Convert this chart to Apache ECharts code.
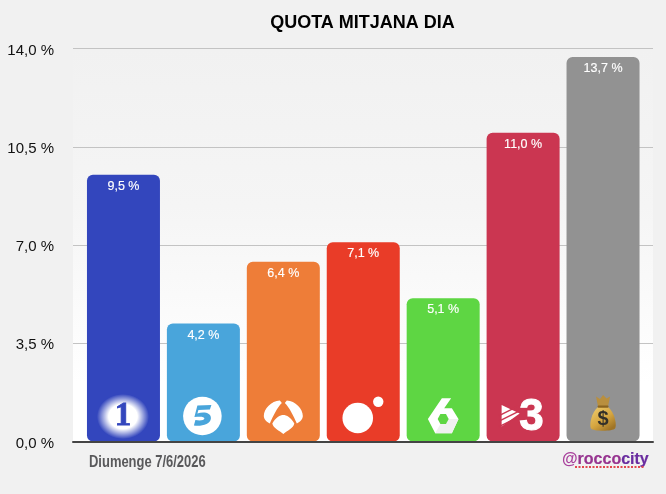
<!DOCTYPE html>
<html><head><meta charset="utf-8">
<style>html,body{margin:0;padding:0;background:#f1f1f1}#c{width:666px;height:494px}</style>
<script src="https://cdn.jsdelivr.net/npm/echarts@6/dist/echarts.min.js"></script>
</head><body><div id="c"></div>
<script>
const titleText = 'QUOTA MITJANA DIA';
const dateText = 'Diumenge 7/6/2026';
const creditAt = '@';
const creditA = 'rocco';
const creditB = 'city';
const categories = ['La 1','Telecinco','Antena 3','Cuatro','laSexta','TV3','Altres'];
const values = [9.5,4.2,6.4,7.1,5.1,11.0,13.7];
const colors = ['#3346bd','#49a5db','#ee7d38','#e93c28','#5ed643','#cb3651','#929292'];
const logoLevel = 0.89;
const fmt = v => v.toFixed(1).replace('.',',') + ' %';
const FONT = '"Liberation Sans", Arial, sans-serif';

function P(x,y,tpl){
  return tpl.replace(/(-?[\d.]+) (-?[\d.]+)/g,(m,a,b)=>(x+ +a)+' '+(y+ +b));
}
function logo(i, x, y, c) {
  const W = '#ffffff';
  const ch = [];
  const g = (o) => ch.push(o);
  const poly = (pts,fill)=>g({type:'polygon',shape:{points:pts.map(p=>[x+p[0],y+p[1]])},style:{fill}});
  const path = (tpl,fill)=>g({type:'path',shape:{pathData:P(x,y,tpl)},style:{fill}});
  if (i === 0) {
    g({type:'circle',x:x-0.5,y:y,scaleX:25.5/22,shape:{cx:0,cy:0,r:22.5},style:{fill:{type:'radial',x:.5,y:.5,r:.5,colorStops:[{offset:0,color:'#fff'},{offset:.55,color:'#fff'},{offset:1,color:'rgba(255,255,255,0)'}]}}});
    g({type:'text',style:{x:x-0.5,y:y,text:'1',fill:c,stroke:c,lineWidth:0.8,font:'bold 33px "Liberation Serif", serif',align:'center',verticalAlign:'middle'}});
  } else if (i === 1) {
    g({type:'circle',shape:{cx:x-1,cy:y-0.5,r:19.3},style:{fill:W}});
    path('M-6 -11 L8 -11.5 L6.5 -7 L-5 -6.5 L-6 -3 C0 -5 8 -4 7.5 2 C7 8 -2 10 -9.5 9 L-8 3.5 C-4 4.5 1 4 1 2 C1 -0 -3 0 -9 0.5 Z',c);
    g({type:'line',shape:{x1:x-8,y1:y+6,x2:x+3,y2:y+5},style:{stroke:c,lineWidth:0.8}});
  } else if (i === 2) {
    path('M-3.5 -16 C-12 -15.5 -19.5 -8 -19.5 -0.5 C-19.5 2.5 -17 5.5 -13.5 7 C-10 -1 -6 -9 -1.5 -13.5 Z',W);
    path('M3.5 -16 C12 -15.5 19.5 -8 19.5 -0.5 C19.5 2.5 17 5.5 13.5 7 C10 -1 6 -9 1.5 -13.5 Z',W);
    path('M-11 7 C-8 1 -3 -1.5 0 -1.5 C3 -1.5 8 1 11 7 C10 12 4 14 0 17.5 C-4 14 -10 12 -11 7 Z',W);
  } else if (i === 3) {
    g({type:'circle',shape:{cx:x-5.5,cy:y+1.5,r:15.3},style:{fill:W}});
    g({type:'circle',shape:{cx:x+15,cy:y-14.8,r:5.2},style:{fill:W}});
  } else if (i === 4) {
    poly([[-15.3,2.5],[-1.3,-18.2],[8,-18.2],[1,-8.2],[8.7,-8.2],[15.3,2.5],[8.7,16.8],[-8,16.8]],W);
    poly([[0,2.5],[15.3,2.5],[8.7,16.8],[-8,16.8]],'#f0f0f0');
    poly([[-5.5,2.5],[-2.8,-2.5],[2.8,-2.5],[5.5,2.5],[2.8,7.5],[-2.8,7.5]],c);
  } else if (i === 5) {
    poly([[-21.5,-11.5],[-3.5,-3],[-21.5,10]],W);
    [0,1,2].forEach(k=>g({type:'line',shape:{x1:x-24,y1:y-1+k*5.5,x2:x-4,y2:y-11+k*5.5},style:{stroke:c,lineWidth:1.4}}));
    g({type:'text',style:{x:x+8.5,y:y+1,text:'3',fill:W,font:'bold 44px "Liberation Sans", sans-serif',align:'center',verticalAlign:'middle',stroke:W,lineWidth:1}});
  } else {
    path('M-7 -20 L-3 -17.5 L0 -21.5 L3.5 -18 L7 -20 L5 -10 L-5 -10 Z','#b98f3e');
    path('M-4.5 -10 C-12 -4 -14 9 -12 12 C-10 15 10 15 12 12 C14 9 12 -4 4.5 -10 Z',{type:'linear',x:0,y:0,x2:.7,y2:1,colorStops:[{offset:0,color:'#f0cf72'},{offset:.6,color:'#d6a640'},{offset:1,color:'#9f7426'}]});
    g({type:'rect',shape:{x:x-5.5,y:y-11,width:11,height:2.2,r:1},style:{fill:'#8a6420'}});
    g({type:'text',style:{x:x,y:y+3,text:'$',fill:'#333029',font:'bold 20px "Liberation Sans", sans-serif',align:'center',verticalAlign:'middle'}});
  }
  return {type:'group',children:ch};
}

const chart = echarts.init(document.getElementById('c'), null, {renderer:'canvas'});
chart.setOption({
  animation:false,
  backgroundColor:'#f1f1f1',
  title:[
    {text:titleText,left:357.5,top:9,textAlign:'center',textStyle:{fontFamily:FONT,fontWeight:'bold',fontSize:18,color:'#000'}},
    {text:`{a|${creditAt}}{b|${creditA}}{c|${creditB}}`,left:557,top:447,
     textStyle:{rich:{
       a:{fontFamily:FONT,fontSize:16,color:'#a8409c'},
       b:{fontFamily:FONT,fontSize:16,color:'#96338f',textBorderColor:'#96338f',textBorderWidth:0.2},
       c:{fontFamily:FONT,fontSize:16,color:'#6a2da0',textBorderColor:'#6a2da0',textBorderWidth:0.2}}}}
  ],
  graphic:[
    {type:'text',x:89,y:462.5,scaleX:0.81,z:10,style:{text:dateText,font:'bold 16px "Liberation Sans", sans-serif',fill:'#59595b',verticalAlign:'middle'}},
    {type:'line',z:10,shape:{x1:575,y1:467,x2:645,y2:467},style:{stroke:'#e2474f',lineWidth:2,lineDash:[2,1.5]}}
  ],
  grid:[
    {left:73,top:48.5,width:580,height:393,show:true,borderWidth:0,
     backgroundColor:new echarts.graphic.LinearGradient(0,0,0,1,[{offset:0,color:'#f1f1f1'},{offset:.4,color:'#f5f5f5'},{offset:.85,color:'#ffffff'},{offset:1,color:'#ffffff'}])},
    {left:83.5,top:48.5,width:559.5,height:393}
  ],
  xAxis:[
    {gridIndex:0,type:'category',data:[''],axisTick:{show:false},axisLabel:{show:false},axisLine:{show:true,lineStyle:{color:'#444',width:2}},z:5},
    {gridIndex:1,type:'category',data:categories,axisTick:{show:false},axisLabel:{show:false},axisLine:{show:false}}
  ],
  yAxis:[
    {gridIndex:0,type:'value',min:0,max:14,interval:3.5,axisLine:{show:false},axisTick:{show:false},
     axisLabel:{formatter:fmt,color:'#111',fontFamily:FONT,fontSize:15,margin:19,verticalAlign:'top',lineHeight:4},
     splitLine:{lineStyle:{color:'#c3c3c3',width:1}}},
    {gridIndex:1,type:'value',min:0,max:14,interval:3.5,show:false}
  ],
  series:[
    {type:'bar',xAxisIndex:1,yAxisIndex:1,barWidth:73,z:3,
     data:values.map((v,i)=>({value:v,itemStyle:{color:colors[i],borderRadius:6}})),
     label:{show:true,position:'insideTop',distance:5,formatter:p=>fmt(p.value),color:'#fff',fontFamily:FONT,fontSize:12.5,fontWeight:'normal',textBorderColor:'#fff',textBorderWidth:0.15}},
    {type:'custom',xAxisIndex:1,yAxisIndex:1,z:4,silent:true,
     data:categories.map((c,i)=>[i,logoLevel]),
     encode:{x:0,y:1},
     renderItem:(p,api)=>{const pt=api.coord([api.value(0),api.value(1)]);return logo(p.dataIndex,pt[0],pt[1],colors[p.dataIndex]);}}
  ]
});
</script></body></html>
